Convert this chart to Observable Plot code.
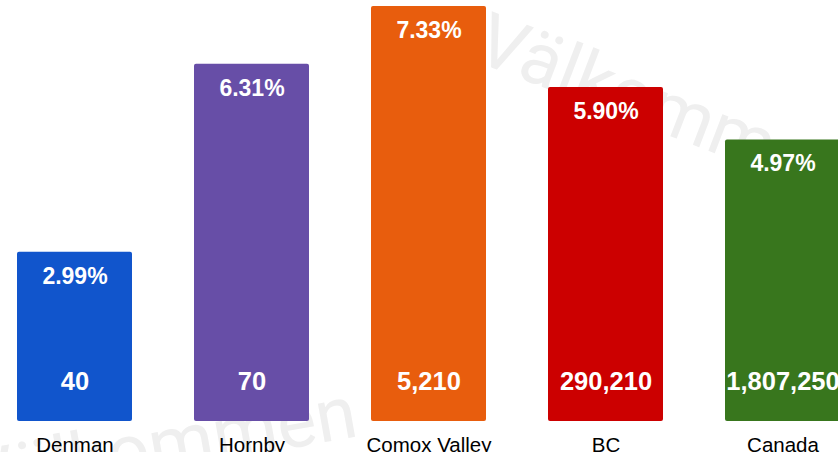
<!DOCTYPE html>
<html>
<head>
<meta charset="utf-8">
<script src="https://cdn.jsdelivr.net/npm/d3@7"></script>
<script src="https://cdn.jsdelivr.net/npm/@observablehq/plot@0.6"></script>
<style>
  html, body { margin: 0; padding: 0; background: #fff; }
  #wrap { position: relative; width: 838px; height: 452px; overflow: hidden; }
  #wm { position: absolute; left: 0; top: 0; z-index: 0; }
  #chart { position: absolute; left: 0; top: 0; z-index: 1; }
</style>
</head>
<body>
<div id="wrap">
  <svg id="wm" width="838" height="452" font-family="Roboto, sans-serif" font-weight="400" font-style="normal" font-size="74" fill="#efefef">
    <text x="472" y="60" transform="rotate(21 472 60)">Välkommen</text>
    <text x="360" y="436" text-anchor="end" transform="rotate(-10 360 436)">Välkommen</text>
  </svg>
  <div id="chart"></div>
</div>
<script>
const categories = ["Denman", "Hornby", "Comox Valley", "BC", "Canada"];
const percents = [2.99, 6.31, 7.33, 5.90, 4.97];
const counts = [40, 70, 5210, 290210, 1807250];
const colors = ["#1155cc", "#674ea7", "#e85d0d", "#cc0000", "#38761d"];

const data = categories.map((c, i) => ({cat: c, pct: percents[i], count: counts[i]}));
const fmtCount = d3.format(",");
const font = "'Liberation Sans', Arial, sans-serif";

const chart = Plot.plot({
  width: 838,
  height: 452,
  marginTop: 6,
  marginBottom: 31,
  marginLeft: 0,
  marginRight: 0,
  style: {fontFamily: font, background: "transparent"},
  x: {domain: categories, range: [15, 842.2], paddingInner: 0.3476, paddingOuter: 0, label: null},
  y: {domain: [0, d3.max(percents)], axis: null},
  color: {domain: categories, range: colors},
  marks: [
    Plot.barY(data, {x: "cat", y: "pct", fill: "cat", rx: 2}),
    Plot.text(data, {x: "cat", y: "pct", text: d => d.pct.toFixed(2) + "%", dy: 24, fill: "white", fontSize: 23, fontWeight: "bold"}),
    Plot.text(data, {x: "cat", y: 0, text: d => fmtCount(d.count), dy: -40, fill: "white", fontSize: 25.5, fontWeight: "bold"}),
    Plot.axisX({tickSize: 0, tickPadding: 16, fontSize: 20.5, fill: "#000", textAnchor: "middle"})
  ]
});
document.getElementById("chart").appendChild(chart);
</script>
</body>
</html>
